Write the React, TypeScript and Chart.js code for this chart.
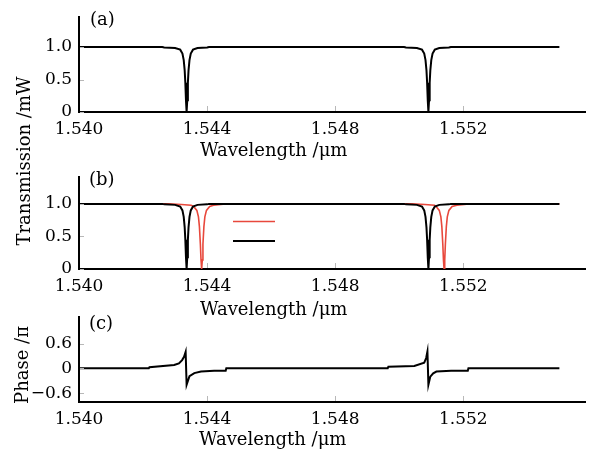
import React, { useEffect, useRef } from 'react';
import Chart from 'chart.js/auto';

const FONT = "'DejaVu Serif', serif";

// ---- axis ticks ----
const xMin = 1.54;
const xMax = 1.5558;
const xTicks = [1.54, 1.544, 1.548, 1.552];
const xTickLabels = ['1.540', '1.544', '1.548', '1.552'];
const transTicks = [0, 0.5, 1.0];
const transTickLabels = ['0', '0.5', '1.0'];
const phaseTicks = [-0.6, 0, 0.6];
const phaseTickLabels = ['\u22120.6', '0', '0.6'];

// ---- series: black transmission (panels a, b) ----
const blackWavelength = [
  1.5400, 1.5426, 1.54266, 1.5430, 1.54316, 1.54323, 1.54327, 1.54330, 1.54332, 1.54334,
  1.54336, 1.54338, 1.54340, 1.54342, 1.54345, 1.54349, 1.54356, 1.5437, 1.5440, 1.54406,
  1.55015, 1.55021, 1.55055, 1.55071, 1.55078, 1.55082, 1.55085, 1.55087, 1.55089, 1.55091,
  1.55093, 1.55095, 1.55097, 1.55100, 1.55104, 1.55111, 1.55125, 1.55155, 1.55161, 1.5550,
];
const blackTransmission = [
  1.0, 1.0, 0.993, 0.985, 0.96, 0.90, 0.80, 0.64, 0.45, 0.18,
  0.0, 0.18, 0.45, 0.64, 0.80, 0.90, 0.96, 0.985, 0.993, 1.0,
  1.0, 0.993, 0.985, 0.96, 0.90, 0.80, 0.64, 0.45, 0.18, 0.0,
  0.18, 0.45, 0.64, 0.80, 0.90, 0.96, 0.985, 0.993, 1.0, 1.0,
];

// ---- series: red transmission (panel b) ----
const redWavelength = [
  1.5400, 1.5428, 1.5432, 1.5435, 1.54358, 1.54368, 1.54373, 1.54376, 1.54379, 1.54381,
  1.54383, 1.54385, 1.54387, 1.54390, 1.54393, 1.54398, 1.54408, 1.5442, 1.5445, 1.5447,
  1.5504, 1.5508, 1.5511, 1.55115, 1.55125, 1.55130, 1.55133, 1.55136, 1.55138, 1.55140,
  1.55142, 1.55144, 1.55147, 1.55150, 1.55155, 1.55165, 1.5518, 1.5521, 1.5523, 1.5550,
];
const redTransmission = [
  1.0, 1.0, 0.99, 0.98, 0.96, 0.90, 0.80, 0.65, 0.38, 0.14,
  0.0, 0.14, 0.38, 0.65, 0.80, 0.90, 0.96, 0.98, 0.995, 1.0,
  1.0, 0.99, 0.98, 0.96, 0.90, 0.80, 0.65, 0.38, 0.14, 0.0,
  0.14, 0.38, 0.65, 0.80, 0.90, 0.96, 0.98, 0.995, 1.0, 1.0,
];

// ---- series: phase (panel c) ----
const phaseWavelength = [
  1.5400, 1.54218, 1.54220, 1.54297, 1.54312, 1.54322, 1.54328, 1.54333, 1.54336, 1.54345,
  1.54360, 1.54381, 1.54422, 1.54458, 1.54460,
  1.54964, 1.54966, 1.55047, 1.55078, 1.55084, 1.55088, 1.55091, 1.55097, 1.55106, 1.55116,
  1.55162, 1.55214, 1.55216, 1.5550,
];
const phaseValue = [
  0, 0, 0.03, 0.08, 0.12, 0.20, 0.28, 0.40, -0.40, -0.19,
  -0.115, -0.077, -0.06, -0.06, 0,
  0, 0.04, 0.06, 0.14, 0.25, 0.41, -0.40, -0.20, -0.12, -0.077,
  -0.06, -0.06, 0, 0,
];

const BLACK = '#000000';
const RED = '#e8483c';

const toPoints = (xs: number[], ys: number[]) => xs.map((x, i) => ({ x, y: ys[i] }));

const innerTicks = {
  id: 'innerTicks',
  afterDatasetsDraw(chart: any) {
    const { ctx, chartArea } = chart;
    const x = chart.scales.x;
    const y = chart.scales.y;
    ctx.save();
    ctx.strokeStyle = '#b8b8b8';
    ctx.lineWidth = 1;
    x.ticks.forEach((t: any, i: number) => {
      if (i === 0) return;
      const px = Math.round(x.getPixelForValue(t.value)) + 0.5;
      ctx.beginPath();
      ctx.moveTo(px, chartArea.bottom - 1);
      ctx.lineTo(px, chartArea.bottom - 6);
      ctx.stroke();
    });
    y.ticks.forEach((t: any) => {
      const py = Math.round(y.getPixelForValue(t.value)) + 0.5;
      ctx.beginPath();
      ctx.moveTo(chartArea.left + 1, py);
      ctx.lineTo(chartArea.left + 5, py);
      ctx.stroke();
    });
    ctx.restore();
  },
};

const legendLines = {
  id: 'legendLines',
  afterDatasetsDraw(chart: any) {
    const { ctx } = chart;
    const ds = chart.data.datasets;
    const rows = [
      { color: ds[1].borderColor, width: ds[1].borderWidth, y: 61.5 },
      { color: ds[0].borderColor, width: ds[0].borderWidth, y: 81 },
    ];
    ctx.save();
    rows.forEach((r) => {
      ctx.strokeStyle = r.color;
      ctx.lineWidth = r.width;
      ctx.beginPath();
      ctx.moveTo(233, r.y);
      ctx.lineTo(275, r.y);
      ctx.stroke();
    });
    ctx.restore();
  },
};

type PanelProps = {
  top: number;
  height: number;
  padTop: number;
  xAxisH: number;
  yMin: number;
  yMax: number;
  yTicks: number[];
  yLabels: string[];
  datasets: any[];
  legend?: boolean;
};

function Panel(p: PanelProps) {
  const ref = useRef<HTMLCanvasElement | null>(null);
  useEffect(() => {
    if (!ref.current) return;
    const chart = new Chart(ref.current, {
      type: 'line',
      data: { datasets: p.datasets },
      options: {
        animation: false,
        responsive: false,
        maintainAspectRatio: false,
        events: [],
        layout: { padding: { top: p.padTop, right: 12, left: 0, bottom: 0 } },
        plugins: { legend: { display: false }, tooltip: { enabled: false } },
        elements: { point: { radius: 0 }, line: { tension: 0 } },
        scales: {
          x: {
            type: 'linear',
            min: xMin,
            max: xMax,
            afterBuildTicks: (s: any) => {
              s.ticks = xTicks.map((v) => ({ value: v }));
            },
            afterFit: (s: any) => {
              s.height = p.xAxisH;
            },
            grid: { display: false, drawTicks: false },
            border: { display: true, color: '#000', width: 2 },
            ticks: {
              color: '#000',
              font: { family: FONT, size: 17 },
              padding: 7,
              maxRotation: 0,
              autoSkip: false,
              callback: (v: any) => {
                const i = xTicks.findIndex((t) => Math.abs(t - v) < 1e-7);
                return i >= 0 ? xTickLabels[i] : '';
              },
            },
          },
          y: {
            type: 'linear',
            min: p.yMin,
            max: p.yMax,
            afterBuildTicks: (s: any) => {
              s.ticks = p.yTicks.map((v) => ({ value: v }));
            },
            afterFit: (s: any) => {
              s.width = 79;
            },
            grid: { display: false, drawTicks: false },
            border: { display: true, color: '#000', width: 2 },
            ticks: {
              color: '#000',
              font: { family: FONT, size: 17 },
              padding: 7,
              autoSkip: false,
              callback: (v: any) => {
                const i = p.yTicks.findIndex((t) => Math.abs(t - v) < 1e-7);
                return i >= 0 ? p.yLabels[i] : '';
              },
            },
          },
        },
      },
      plugins: p.legend ? [innerTicks, legendLines] : [innerTicks],
    } as any);
    return () => chart.destroy();
  }, []);
  return (
    <canvas
      ref={ref}
      width={597}
      height={p.height}
      style={{ position: 'absolute', left: 0, top: p.top, width: 597, height: p.height }}
    />
  );
}

const textBase: React.CSSProperties = {
  position: 'absolute',
  fontFamily: FONT,
  color: '#000',
  whiteSpace: 'nowrap',
  lineHeight: 1,
};

export default function App() {
  const blackDs = {
    label: 'black',
    data: toPoints(blackWavelength, blackTransmission),
    borderColor: BLACK,
    borderWidth: 2,
    pointRadius: 0,
    fill: false,
  };
  const redDs = {
    label: 'red',
    data: toPoints(redWavelength, redTransmission),
    borderColor: RED,
    borderWidth: 1.6,
    pointRadius: 0,
    fill: false,
  };
  const phaseDs = {
    label: 'phase',
    data: toPoints(phaseWavelength, phaseValue),
    borderColor: BLACK,
    borderWidth: 2,
    pointRadius: 0,
    fill: false,
  };
  return (
    <div style={{ position: 'absolute', left: 0, top: 0, width: 597, height: 453, background: '#fff', overflow: 'hidden' }}>
      <Panel top={0} height={140} padTop={10} xAxisH={28} yMin={0} yMax={1.46}
        yTicks={transTicks} yLabels={transTickLabels} datasets={[{ ...blackDs }]} />
      <Panel top={160} height={140} padTop={13} xAxisH={31} yMin={0} yMax={1.41}
        yTicks={transTicks} yLabels={transTickLabels} datasets={[{ ...blackDs }, redDs]} legend />
      <Panel top={300} height={130} padTop={13} xAxisH={28} yMin={-0.815} yMax={1.24}
        yTicks={phaseTicks} yLabels={phaseTickLabels} datasets={[phaseDs]} />

      <div style={{ ...textBase, fontSize: 18, left: 90, top: 10 }}>(a)</div>
      <div style={{ ...textBase, fontSize: 18, left: 89, top: 170 }}>(b)</div>
      <div style={{ ...textBase, fontSize: 18, left: 89, top: 314 }}>(c)</div>

      <div style={{ ...textBase, fontSize: 18, left: 200, top: 141 }}>Wavelength /μm</div>
      <div style={{ ...textBase, fontSize: 18, left: 200, top: 300 }}>Wavelength /μm</div>
      <div style={{ ...textBase, fontSize: 18, left: 199, top: 430 }}>Wavelength /μm</div>

      <div style={{ ...textBase, fontSize: 18, left: 24, top: 161, transform: 'translate(-50%, -50%) rotate(-90deg)' }}>
        Transmission /mW
      </div>
      <div style={{ ...textBase, fontSize: 18, left: 22, top: 365, transform: 'translate(-50%, -50%) rotate(-90deg)' }}>
        Phase /π
      </div>
    </div>
  );
}
